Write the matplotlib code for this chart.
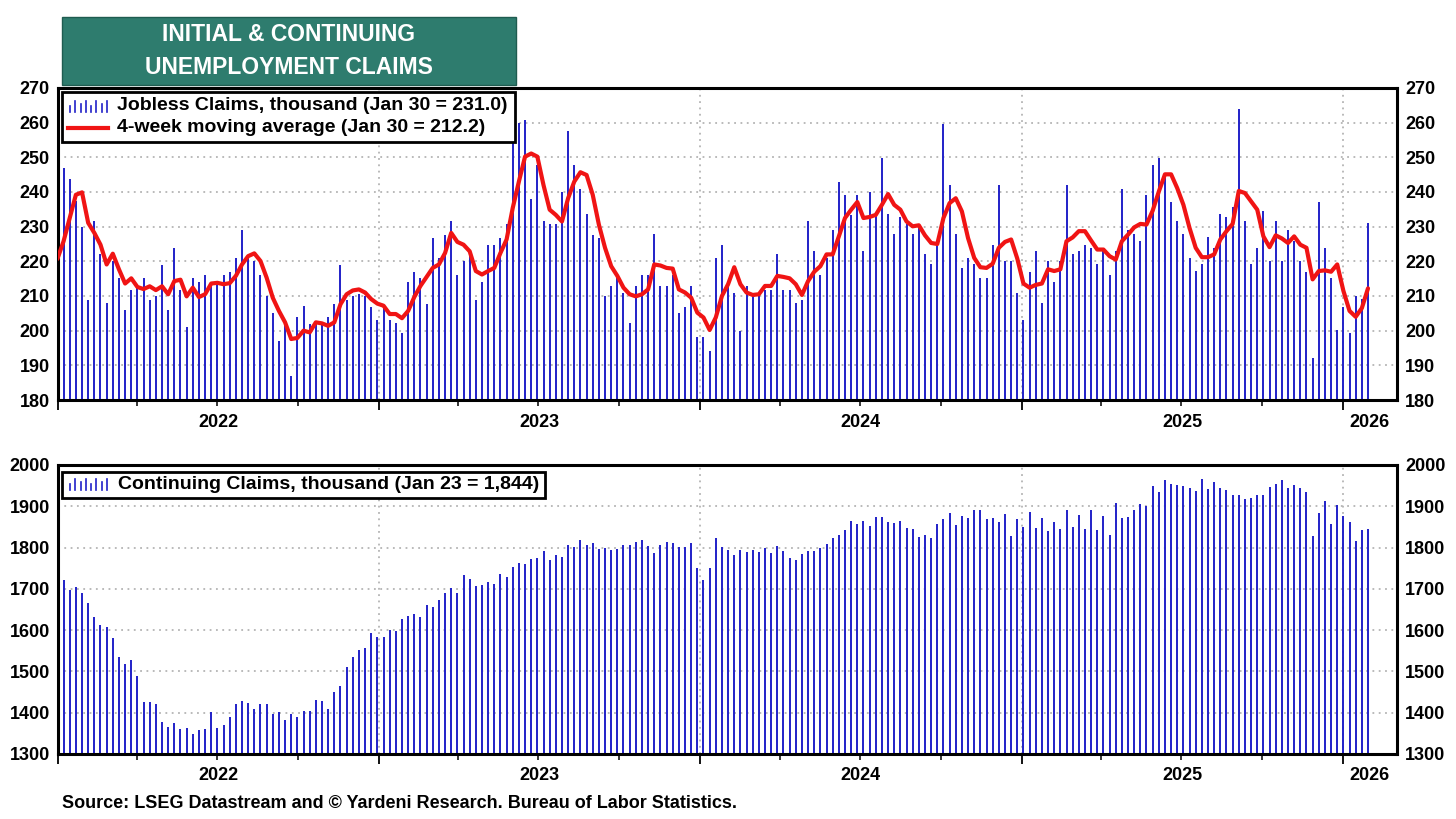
import numpy as np
import pandas as pd
import matplotlib
matplotlib.use("Agg")
import matplotlib.pyplot as plt
import matplotlib.dates as mdates
from matplotlib.patches import Rectangle
from matplotlib.lines import Line2D

plt.rcParams['font.family'] = ['Liberation Sans', 'DejaVu Sans']
plt.rcParams['font.weight'] = 'bold'

# ---------------- data ----------------
initial_start = "2022-01-07"
initial_claims = [
    246.8, 243.7, 237.3, 229.8, 208.8, 231.7, 222.0, 207.9, 220.1, 215.1,
    205.9, 211.7, 212.4, 215.1, 208.8, 209.9, 219.0, 205.9, 223.9, 211.7,
    201.0, 215.1, 214.1, 216.0, 213.4, 213.4, 216.0, 217.0, 221.0, 228.9,
    221.0, 220.1, 216.0, 209.9, 205.0, 197.1, 202.1, 187.0, 204.0, 207.0,
    202.0, 201.9, 201.9, 204.0, 207.8, 219.0, 208.8, 209.9, 210.7, 209.9,
    206.9, 203.0, 206.6, 203.0, 202.1, 199.2, 214.1, 217.0, 215.1, 207.8,
    226.7, 221.0, 227.7, 231.7, 216.0, 220.1, 222.9, 208.8, 214.1, 224.8,
    224.8, 226.7, 230.8, 258.3, 259.9, 260.8, 238.0, 247.8, 231.7, 230.8,
    230.8, 239.9, 257.5, 247.8, 240.9, 233.6, 227.7, 226.7, 209.9, 212.8,
    216.0, 210.9, 202.1, 212.8, 216.0, 216.0, 227.9, 212.8, 212.8, 216.0,
    205.0, 206.9, 212.8, 198.1, 198.1, 194.2, 221.0, 224.8, 212.6, 210.9,
    200.0, 212.8, 209.9, 209.9, 211.8, 211.8, 222.0, 211.8, 211.8, 208.0,
    208.8, 231.7, 222.9, 216.0, 221.0, 228.9, 242.8, 239.0, 233.4, 239.0,
    222.9, 239.9, 233.3, 249.9, 233.6, 227.9, 232.7, 230.8, 227.9, 229.8,
    222.0, 219.1, 225.0, 259.7, 241.9, 227.9, 218.1, 221.0, 219.1, 215.1,
    215.1, 224.8, 241.9, 220.1, 220.1, 210.9, 203.0, 217.0, 222.9, 207.9,
    220.1, 214.1, 220.1, 241.9, 222.0, 222.9, 224.8, 223.9, 219.1, 223.9,
    216.0, 222.9, 240.9, 228.9, 227.9, 226.0, 239.0, 247.8, 249.7, 245.4,
    237.1, 231.7, 227.9, 221.0, 217.2, 219.1, 226.9, 223.9, 233.6, 232.7,
    235.7, 263.8, 231.7, 219.1, 223.9, 234.6, 220.1, 231.7, 220.1, 228.9,
    226.0, 220.1, 217.0, 192.1, 237.1, 223.9, 215.1, 200.2, 206.9, 199.2,
    209.9, 209.0, 231.0,
]

ma_start = "2021-12-31"
moving_avg_4wk = [
    220.7,
    225.8, 232.5, 239.2, 239.9, 231.1, 228.2, 224.8, 219.1, 222.2, 217.7,
    213.6, 215.1, 212.6, 212.0, 212.8, 211.7, 212.8, 210.5, 214.3, 214.7,
    209.9, 212.4, 209.7, 210.5, 213.6, 213.8, 213.4, 213.7, 215.8, 219.1,
    221.5, 222.3, 220.1, 215.3, 209.5, 205.7, 202.4, 197.6, 197.9, 200.0,
    199.5, 202.4, 202.1, 201.4, 202.4, 207.6, 210.5, 211.6, 211.9, 211.0,
    209.1, 207.8, 207.2, 204.8, 204.8, 203.6, 205.7, 209.7, 212.9, 215.5,
    218.1, 219.1, 222.4, 228.2, 225.6, 224.8, 222.9, 217.2, 216.2, 217.2,
    218.1, 222.4, 226.3, 235.4, 243.0, 250.2, 251.1, 250.2, 242.0, 234.9,
    233.4, 231.5, 238.2, 243.0, 245.7, 244.9, 239.2, 230.6, 223.9, 218.6,
    215.8, 212.4, 210.5, 209.9, 210.5, 211.9, 219.1, 218.8, 218.1, 217.9,
    211.9, 211.0, 209.5, 205.2, 203.8, 200.2, 203.8, 210.0, 213.4, 218.3,
    213.4, 211.0, 210.3, 210.5, 212.9, 212.9, 215.8, 215.5, 215.1, 213.4,
    210.3, 214.3, 217.0, 218.6, 222.0, 222.0, 227.2, 232.5, 234.9, 237.1,
    232.5, 232.8, 233.4, 236.3, 239.4, 236.3, 234.9, 231.5, 230.1, 230.4,
    227.5, 225.3, 225.0, 232.5, 236.8, 238.2, 234.4, 226.7, 221.0, 218.3,
    218.1, 219.3, 223.9, 225.6, 226.3, 220.8, 213.6, 212.4, 213.2, 213.6,
    217.7, 217.2, 217.7, 225.8, 226.9, 228.7, 228.7, 226.0, 223.4, 223.4,
    221.5, 220.5, 225.8, 227.7, 229.8, 230.8, 230.6, 234.6, 240.1, 245.1,
    245.1, 241.1, 236.3, 229.6, 223.9, 221.2, 221.2, 222.0, 226.3, 228.7,
    230.8, 240.3, 239.7, 237.3, 234.9, 227.2, 224.1, 227.5, 226.6, 225.3,
    227.2, 224.8, 223.9, 214.8, 217.2, 217.4, 217.0, 219.1, 211.5, 205.7,
    204.0, 206.5, 212.2,
]

continuing_start = "2022-01-07"
continuing_claims = [
    1722, 1698, 1704, 1691, 1665, 1632, 1613, 1608, 1581, 1536,
    1517, 1527, 1490, 1426, 1426, 1420, 1378, 1365, 1374, 1360,
    1362, 1349, 1357, 1360, 1401, 1362, 1370, 1390, 1420, 1429,
    1423, 1409, 1420, 1420, 1396, 1401, 1382, 1396, 1390, 1404,
    1404, 1431, 1429, 1409, 1450, 1465, 1511, 1536, 1552, 1556,
    1593, 1583, 1583, 1600, 1597, 1627, 1635, 1640, 1632, 1660,
    1657, 1673, 1691, 1702, 1690, 1734, 1724, 1707, 1709, 1716,
    1712, 1737, 1728, 1754, 1762, 1759, 1773, 1775, 1792, 1770,
    1782, 1776, 1806, 1801, 1819, 1806, 1811, 1797, 1798, 1793,
    1797, 1806, 1806, 1813, 1819, 1804, 1787, 1807, 1813, 1811,
    1801, 1801, 1811, 1750, 1721, 1750, 1823, 1801, 1795, 1782,
    1794, 1789, 1794, 1790, 1800, 1787, 1804, 1792, 1775, 1770,
    1785, 1791, 1792, 1798, 1808, 1823, 1831, 1842, 1864, 1856,
    1864, 1853, 1873, 1875, 1862, 1859, 1864, 1848, 1845, 1825,
    1831, 1823, 1856, 1868, 1884, 1854, 1877, 1872, 1892, 1892,
    1870, 1872, 1862, 1881, 1829, 1870, 1851, 1886, 1848, 1872,
    1839, 1861, 1844, 1891, 1851, 1880, 1844, 1892, 1842, 1877,
    1830, 1907, 1872, 1875, 1891, 1905, 1901, 1949, 1935, 1963,
    1955, 1952, 1949, 1944, 1936, 1966, 1942, 1960, 1944, 1939,
    1927, 1927, 1917, 1920, 1927, 1927, 1947, 1954, 1964, 1944,
    1952, 1944, 1935, 1829, 1884, 1914, 1856, 1903, 1876, 1863,
    1817, 1842, 1844,
]

top_yticks = [180, 190, 200, 210, 220, 230, 240, 250, 260, 270]
bot_yticks = [1300, 1400, 1500, 1600, 1700, 1800, 1900, 2000]
year_labels = ["2022", "2023", "2024", "2025", "2026"]

title_lines = "INITIAL & CONTINUING\nUNEMPLOYMENT CLAIMS"
legend_top_1 = "Jobless Claims, thousand (Jan 30 = 231.0)"
legend_top_2 = "4-week moving average (Jan 30 = 212.2)"
legend_bot = "Continuing Claims, thousand (Jan 23 = 1,844)"
source_text = "Source: LSEG Datastream and \u00a9 Yardeni Research. Bureau of Labor Statistics."

# ---------------- styling ----------------
BLUE = "#2020C8"
RED = "#F01414"
TEAL = "#2E7C6E"
GRID = "#B4B4B4"
FS = 13
LFS = 14

W, H = 1456, 819
fig = plt.figure(figsize=(W / 100, H / 100), dpi=100)
fig.patch.set_facecolor("white")


def fx(px):
    return px / W


def fy(py):
    return 1 - py / H


AX_L, AX_R = 58.3, 1397.0
ax1 = fig.add_axes([fx(AX_L), fy(400), (AX_R - AX_L) / W, (400 - 88) / H])
ax2 = fig.add_axes([fx(AX_L), fy(754), (AX_R - AX_L) / W, (754 - 465) / H])

d_init = pd.date_range(initial_start, periods=len(initial_claims), freq="7D")
d_ma = pd.date_range(ma_start, periods=len(moving_avg_4wk), freq="7D")
d_cont = pd.date_range(continuing_start, periods=len(continuing_claims), freq="7D")

x0 = pd.Timestamp("2022-01-01")
x1 = pd.Timestamp("2026-03-04")


def style_axis(ax, yticks):
    ax.set_xlim(x0, x1)
    ax.set_ylim(yticks[0], yticks[-1])
    ax.set_yticks(yticks)
    ax.set_yticklabels([str(t) for t in yticks], fontsize=FS, fontweight="bold")
    ax.tick_params(axis="y", which="both", length=0, labelleft=True,
                   labelright=True, pad=6)
    ax.xaxis.set_major_locator(mdates.YearLocator())
    ax.xaxis.set_minor_locator(mdates.MonthLocator(bymonth=[4, 7, 10]))
    ax.xaxis.set_major_formatter(plt.NullFormatter())
    ax.xaxis.set_minor_formatter(plt.NullFormatter())
    ax.tick_params(axis="x", which="major", direction="out", length=7, width=1.3)
    ax.tick_params(axis="x", which="minor", direction="out", length=4, width=1.1)
    ax.grid(axis="y", which="major", linestyle=(0, (1, 2.5)), color=GRID, lw=1.3)
    ax.grid(axis="x", which="major", linestyle=(0, (1, 2.5)), color=GRID, lw=1.3)
    ax.set_axisbelow(True)
    for s in ax.spines.values():
        s.set_linewidth(2.2)
        s.set_color("black")
    # year labels centred in the visible part of each year
    for lab in year_labels:
        y = int(lab)
        a = max(pd.Timestamp(f"{y}-01-01"), x0)
        b = min(pd.Timestamp(f"{y + 1}-01-01"), x1)
        mid = a + (b - a) / 2
        ax.text(mdates.date2num(mid), -0.045, lab, transform=ax.get_xaxis_transform(),
                ha="center", va="top", fontsize=FS, fontweight="bold")


style_axis(ax1, top_yticks)
style_axis(ax2, bot_yticks)

ax1.vlines(d_init, top_yticks[0], initial_claims, color=BLUE, lw=1.4, zorder=2)
ax1.plot(d_ma, moving_avg_4wk, color=RED, lw=3.0, solid_joinstyle="round",
         solid_capstyle="round", zorder=3)
ax2.vlines(d_cont, bot_yticks[0], continuing_claims, color=BLUE, lw=1.4, zorder=2)


# ---------------- legends (drawn by hand, Yardeni style) ----------------
def box(x_a, y_a, x_b, y_b, fc="white", ec="black", lw=2.0, z=10):
    fig.add_artist(Rectangle((fx(x_a), fy(y_b)), (x_b - x_a) / W, (y_b - y_a) / H,
                             transform=fig.transFigure, facecolor=fc,
                             edgecolor=ec, lw=lw, zorder=z))


def bar_icon(x_a, x_b, y_bot, y_top):
    pattern = [0.55, 1.0, 0.7, 1.0, 0.55, 1.0, 0.7, 1.0]
    xs = np.linspace(x_a, x_b, len(pattern))
    for xx, h in zip(xs, pattern):
        yy = y_bot - (y_bot - y_top) * h
        fig.add_artist(Line2D([fx(xx), fx(xx)], [fy(y_bot), fy(yy)],
                              transform=fig.transFigure, color=BLUE, lw=1.2, zorder=11))


box(62, 92, 515, 142)
bar_icon(70, 107, 112, 101)
fig.text(fx(117), fy(105), legend_top_1, ha="left", va="center", fontsize=LFS,
         fontweight="bold", zorder=12)
fig.add_artist(Line2D([fx(68), fx(108)], [fy(127.5), fy(127.5)],
                      transform=fig.transFigure, color=RED, lw=3.0, zorder=11))
fig.text(fx(117), fy(127.5), legend_top_2, ha="left", va="center", fontsize=LFS,
         fontweight="bold", zorder=12)

box(62, 472, 545, 498)
bar_icon(70, 107, 490, 479)
fig.text(fx(118), fy(484.5), legend_bot, ha="left", va="center", fontsize=LFS,
         fontweight="bold", zorder=12)

# ---------------- title box ----------------
box(62, 17, 516, 85, fc=TEAL, ec="#1F5C50", lw=1.0)
fig.text(fx(289), fy(51), title_lines, ha="center", va="center", color="white",
         fontsize=16.5, fontweight="bold", linespacing=1.55, zorder=12)

# ---------------- source ----------------
fig.text(fx(62), fy(803), source_text, ha="left", va="center", fontsize=13,
         fontweight="bold")

fig.savefig("out.png", dpi=100, facecolor="white")
